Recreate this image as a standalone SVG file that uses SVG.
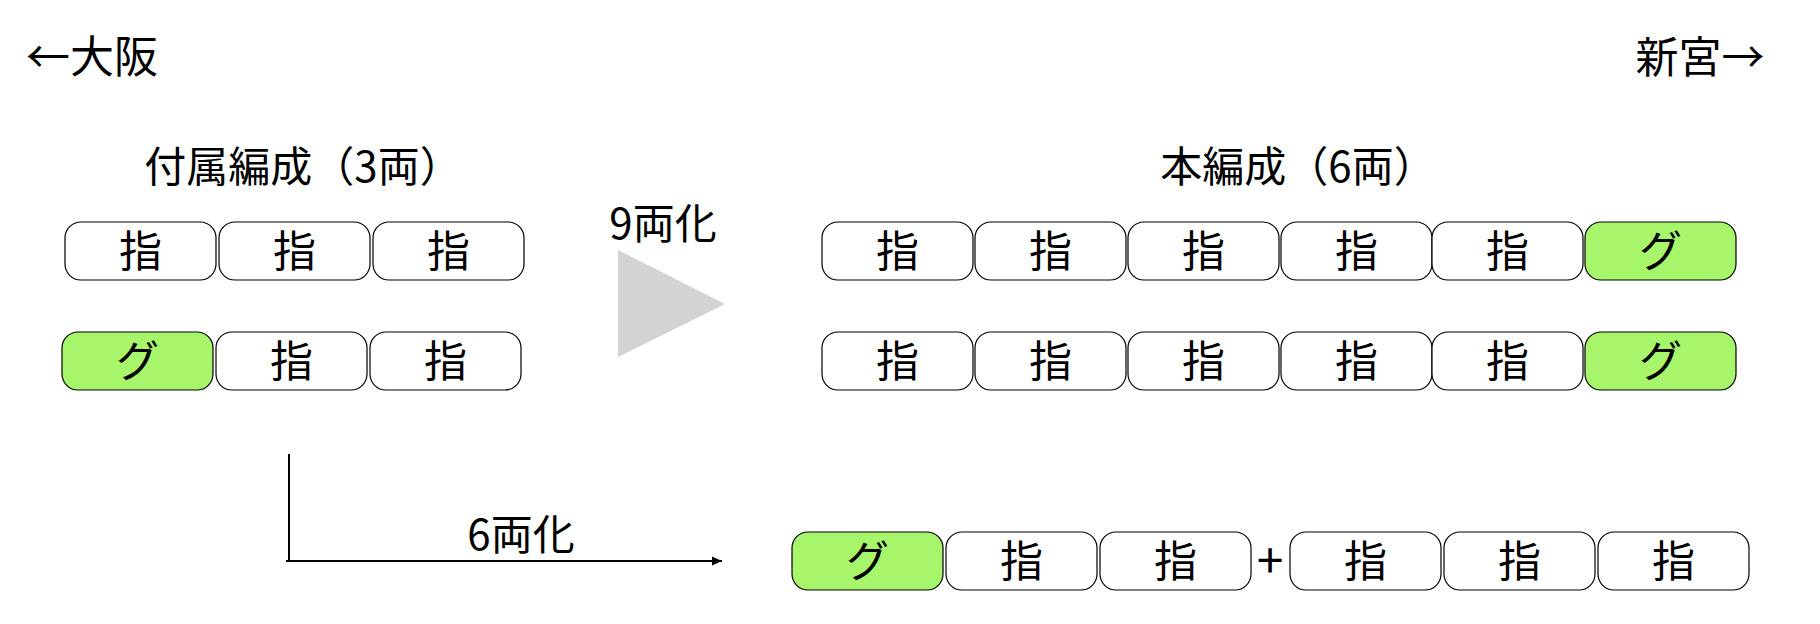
<svg xmlns="http://www.w3.org/2000/svg" width="1820" height="624" viewBox="0 0 1820 624">
<style>
text{font-family:"Noto Sans CJK JP","Noto Sans CJK SC",sans-serif;font-size:42px;fill:#000;text-anchor:middle}
.car rect{fill:#fff;stroke:#000;stroke-width:1.2}
.car.g rect{fill:#a7f56b}
.car text{font-size:43px}
</style>
<defs>
<marker id="ah" viewBox="0 0 10 10" refX="10" refY="5" markerWidth="10" markerHeight="10" markerUnits="userSpaceOnUse" orient="auto">
<path d="M0,0.5 L10,5 L0,9.5 Z" fill="#000"/>
</marker>
</defs>
<rect width="1820" height="624" fill="#fff"/>
<text x="92" y="73" style="font-size:44px">←大阪</text>
<text x="1700" y="73" style="font-size:43px">新宮→</text>
<text x="303" y="182">付属編成（3両）</text>
<text x="1298" y="182">本編成（6両）</text>
<text x="663" y="239">9両化</text>
<text x="521" y="550">6両化</text>
<text x="1270" y="578" style="font-size:48px">+</text>
<polygon id="big-arrow" points="618,250 725,304 618,357" fill="#d3d3d3"/>
<g id="connectors">
<path d="M289,454 V561 M286,561 H722" fill="none" stroke="#000" stroke-width="2" marker-end="url(#ah)"/>
</g>
<g id="attached-1">
<g class="car" id="a1-1"><rect x="65" y="222" width="151" height="58" rx="16"/><text x="140.5" y="267">指</text></g>
<g class="car" id="a1-2"><rect x="219" y="222" width="151" height="58" rx="16"/><text x="294.5" y="267">指</text></g>
<g class="car" id="a1-3"><rect x="373" y="222" width="151" height="58" rx="16"/><text x="448.5" y="267">指</text></g>
</g>
<g id="attached-2">
<g class="car g" id="a2-1"><rect x="62" y="332" width="151" height="58" rx="16"/><text x="137.5" y="377">グ</text></g>
<g class="car" id="a2-2"><rect x="216" y="332" width="151" height="58" rx="16"/><text x="291.5" y="377">指</text></g>
<g class="car" id="a2-3"><rect x="370" y="332" width="151" height="58" rx="16"/><text x="445.5" y="377">指</text></g>
</g>
<g id="main-1">
<g class="car" id="m1-1"><rect x="822" y="222" width="151" height="58" rx="16"/><text x="897.5" y="267">指</text></g>
<g class="car" id="m1-2"><rect x="975" y="222" width="151" height="58" rx="16"/><text x="1050.5" y="267">指</text></g>
<g class="car" id="m1-3"><rect x="1128" y="222" width="151" height="58" rx="16"/><text x="1203.5" y="267">指</text></g>
<g class="car" id="m1-4"><rect x="1281" y="222" width="151" height="58" rx="16"/><text x="1356.5" y="267">指</text></g>
<g class="car" id="m1-5"><rect x="1432" y="222" width="151" height="58" rx="16"/><text x="1507.5" y="267">指</text></g>
<g class="car g" id="m1-6"><rect x="1585" y="222" width="151" height="58" rx="16"/><text x="1660.5" y="267">グ</text></g>
</g>
<g id="main-2">
<g class="car" id="m2-1"><rect x="822" y="332" width="151" height="58" rx="16"/><text x="897.5" y="377">指</text></g>
<g class="car" id="m2-2"><rect x="975" y="332" width="151" height="58" rx="16"/><text x="1050.5" y="377">指</text></g>
<g class="car" id="m2-3"><rect x="1128" y="332" width="151" height="58" rx="16"/><text x="1203.5" y="377">指</text></g>
<g class="car" id="m2-4"><rect x="1281" y="332" width="151" height="58" rx="16"/><text x="1356.5" y="377">指</text></g>
<g class="car" id="m2-5"><rect x="1432" y="332" width="151" height="58" rx="16"/><text x="1507.5" y="377">指</text></g>
<g class="car g" id="m2-6"><rect x="1585" y="332" width="151" height="58" rx="16"/><text x="1660.5" y="377">グ</text></g>
</g>
<g id="six-car">
<g class="car g" id="s-1"><rect x="792" y="532" width="151" height="58" rx="16"/><text x="867.5" y="577">グ</text></g>
<g class="car" id="s-2"><rect x="946" y="532" width="151" height="58" rx="16"/><text x="1021.5" y="577">指</text></g>
<g class="car" id="s-3"><rect x="1100" y="532" width="151" height="58" rx="16"/><text x="1175.5" y="577">指</text></g>
<g class="car" id="s-4"><rect x="1290" y="532" width="151" height="58" rx="16"/><text x="1365.5" y="577">指</text></g>
<g class="car" id="s-5"><rect x="1444" y="532" width="151" height="58" rx="16"/><text x="1519.5" y="577">指</text></g>
<g class="car" id="s-6"><rect x="1598" y="532" width="151" height="58" rx="16"/><text x="1673.5" y="577">指</text></g>
</g>
</svg>
